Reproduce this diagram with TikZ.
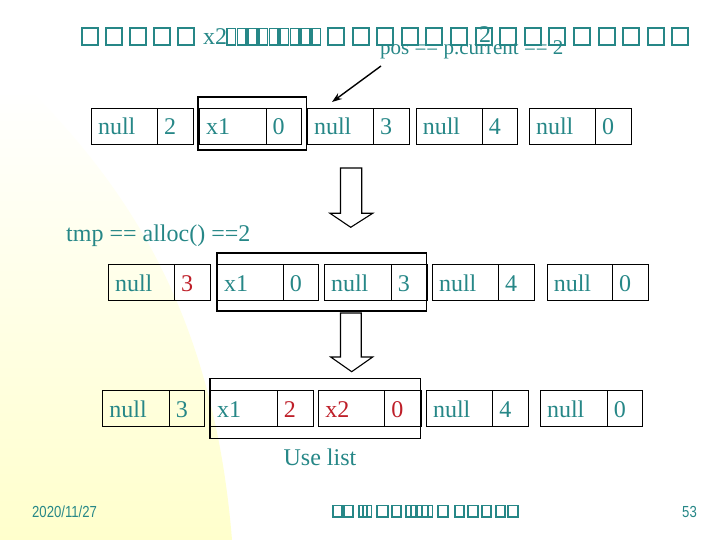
\documentclass[tikz,border=0pt]{standalone}
\usepackage{fontspec}
\setmainfont{Liberation Serif}
\newfontfamily\footfont{Liberation Sans}
\usetikzlibrary{arrows.meta}
\definecolor{tealtxt}{RGB}{38,135,135}
\definecolor{redtxt}{RGB}{190,30,40}
\definecolor{bgyel}{RGB}{255,255,204}
\newcommand\mkcell[6]{%
  \node[cellbox, text=#6] (#1) at (#2,#4)
    {\makebox[\dimexpr #3pt-#2pt\relax][l]{\hspace{6.5pt}#5}};}
\begin{document}
\begin{tikzpicture}[x=1pt,y=-1pt,
  cellbox/.style={draw=black, line width=1.1pt, inner sep=0pt,
    minimum height=36pt, text height=16.5pt, text depth=0pt,
    anchor=north west, font=\fontsize{24}{28}\selectfont},
  encl/.style={draw=black, line width=1.1pt},
  tofu/.style={draw=tealtxt, line width=2pt},
  tofuthin/.style={draw=tealtxt, line width=1.6pt},
  tofusmall/.style={draw=tealtxt, line width=1.1pt},
  lbl/.style={anchor=base west, inner sep=0pt, text=tealtxt,
    font=\fontsize{24}{28}\selectfont},
  foot/.style={anchor=base west, inner sep=0pt, text=tealtxt,
    font=\footfont\fontsize{16}{18}\selectfont},
  blockarrow/.style={draw=black, fill=white, line width=1.1pt, line join=miter},
  pointer/.style={draw=black, line width=1.4pt, -{Stealth[length=10pt,width=7pt]}}
]
\useasboundingbox (0,0) rectangle (720,540);
\fill[white] (0,0) rectangle (720,540);
% background
\shade[top color=white, middle color=bgyel!85, bottom color=bgyel]
  (0,90) -- (30,90) .. controls (140,200) and (215,330) .. (232,540) -- (0,540) -- cycle;

% title (missing glyphs)
\foreach \x in {82,106,130,154,178} \draw[tofu] (\x,28.5) rectangle ++(16,16.5);
\foreach \i in {0,...,8} \draw[tofuthin] (227+\i*10.6,28.5) rectangle ++(8.5,16.5);
\foreach \i in {0,...,14} \draw[tofu] (328+\i*24.6,28.5) rectangle ++(16,16.5);
\node[lbl] (tx2) at (203,45) {x2};
\node[lbl] (t2) at (479,43) {2};

% pointer label
\node[lbl, font=\fontsize{21}{24}\selectfont] (pos) at (380,55) {pos == p.current == 2};
\coordinate (pstart) at (381,66);
\coordinate (pend) at (332,102);
\draw[pointer] (pstart) -- (pend);

% row 1
\draw[encl] (198,97) rectangle (306.5,150);
\mkcell{a1}{91}{157}{108}{null}{tealtxt}
\mkcell{a2}{157}{193}{108}{2}{tealtxt}
\mkcell{b1}{199}{265.5}{108}{x1}{tealtxt}
\mkcell{b2}{265.5}{301}{108}{0}{tealtxt}
\mkcell{c1}{307}{373}{108}{null}{tealtxt}
\mkcell{c2}{373}{409}{108}{3}{tealtxt}
\mkcell{d1}{415.7}{481.7}{108}{null}{tealtxt}
\mkcell{d2}{481.7}{517}{108}{4}{tealtxt}
\mkcell{e1}{529}{595}{108}{null}{tealtxt}
\mkcell{e2}{595}{631}{108}{0}{tealtxt}

% arrow 1
\draw[blockarrow] (340.5,168) -- (361.7,168) -- (361.7,213.3) -- (372.7,213.3)
  -- (350.7,227.3) -- (330,213.3) -- (340.5,213.3) -- cycle;

\node[lbl] (tmp) at (66,241) {tmp == alloc() ==2};

% row 2
\draw[encl] (217,253) rectangle (426.7,311);
\mkcell{f1}{108}{174}{264.3}{null}{tealtxt}
\mkcell{f2}{174}{210}{264.3}{3}{redtxt}
\mkcell{g1}{217}{282.7}{264.3}{x1}{tealtxt}
\mkcell{g2}{282.7}{318}{264.3}{0}{tealtxt}
\mkcell{h1}{324}{390.7}{264.3}{null}{tealtxt}
\mkcell{h2}{390.7}{426.7}{264.3}{3}{tealtxt}
\mkcell{i1}{432}{498}{264.3}{null}{tealtxt}
\mkcell{i2}{498}{534}{264.3}{4}{tealtxt}
\mkcell{j1}{546.7}{612}{264.3}{null}{tealtxt}
\mkcell{j2}{612}{648}{264.3}{0}{tealtxt}

% arrow 2
\draw[blockarrow] (340.5,313) -- (361.2,313) -- (361.2,357) -- (372.7,357)
  -- (351.7,371.7) -- (330.7,357) -- (340.5,357) -- cycle;

% row 3
\draw[encl] (210,378.3) rectangle (420.7,438.3);
\mkcell{k1}{102.3}{168.7}{390.3}{null}{tealtxt}
\mkcell{k2}{168.7}{204.3}{390.3}{3}{tealtxt}
\mkcell{l1}{210}{276.7}{390.3}{x1}{tealtxt}
\mkcell{l2}{276.7}{312.7}{390.3}{2}{redtxt}
\mkcell{m1}{318.3}{384.3}{390.3}{x2}{redtxt}
\mkcell{m2}{384.3}{420.7}{390.3}{0}{redtxt}
\mkcell{n1}{426}{492.3}{390.3}{null}{tealtxt}
\mkcell{n2}{492.3}{528.3}{390.3}{4}{tealtxt}
\mkcell{o1}{540}{606.7}{390.3}{null}{tealtxt}
\mkcell{o2}{606.7}{642.3}{390.3}{0}{tealtxt}

\node[lbl, anchor=base] (use) at (320,465) {Use list};

% footer
\node[foot] (date) at (32,517) {\scalebox{0.82}[1]{2020/11/27}};
\node[foot] (page) at (682,517) {\scalebox{0.82}[1]{53}};
\foreach \a/\b in {333/342,344/353,377/388,392/401,438/448,455/464,468/478,482/491,496/505,508/518}
  \draw[tofusmall] (\a,505.5) rectangle (\b,517);
\foreach \i in {0,1,2} \draw[tofusmall] (359+\i*4.4,505.5) rectangle ++(3.4,11.5);
\foreach \i in {0,...,4} \draw[tofusmall] (406+\i*5.6,505.5) rectangle ++(4.4,11.5);
\end{tikzpicture}
\end{document}
